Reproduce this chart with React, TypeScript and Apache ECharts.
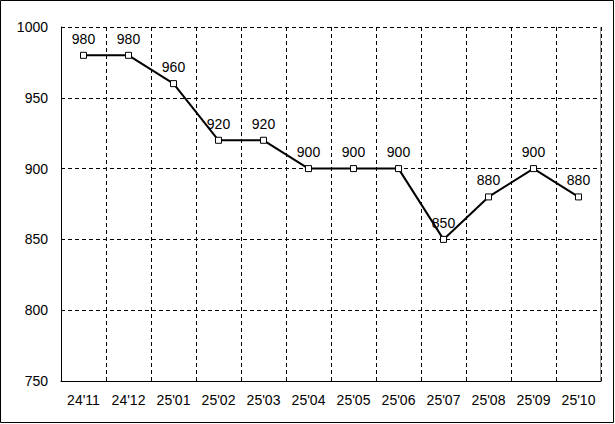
import React, { useEffect, useRef } from "react";
import * as echarts from "echarts";

const categories = ["24'11", "24'12", "25'01", "25'02", "25'03", "25'04", "25'05", "25'06", "25'07", "25'08", "25'09", "25'10"];
const values = [980, 980, 960, 920, 920, 900, 900, 900, 850, 880, 900, 880];
const yMin = 750;
const yMax = 1000;
const yStep = 50;

export default function App() {
  const ref = useRef<HTMLDivElement>(null);
  useEffect(() => {
    if (!ref.current) return;
    const chart = echarts.init(ref.current, undefined, { renderer: "svg" });
    const font = "'Liberation Sans', Arial, sans-serif";
    chart.setOption({
      animation: false,
      backgroundColor: "#ffffff",
      textStyle: { fontFamily: font },
      graphic: [
        {
          type: "rect",
          shape: { x: 0.5, y: 0.5, width: 613, height: 422 },
          style: { fill: "none", stroke: "#000", lineWidth: 1 },
          silent: true,
          z: 100,
        },
        {
          type: "line",
          shape: { x1: 600.5, y1: 27, x2: 600.5, y2: 381 },
          style: { stroke: "#999", lineWidth: 1 },
          silent: true,
          z: 100,
        },
      ],
      grid: { left: 61, top: 27, width: 540, height: 354, containLabel: false },
      xAxis: {
        type: "category",
        data: categories,
        boundaryGap: true,
        axisLine: { show: true, lineStyle: { color: "#000", width: 1 } },
        axisTick: { show: false },
        axisLabel: { color: "#000", fontSize: 14, margin: 12, fontFamily: font, interval: 0 },
        splitLine: { show: true, interval: 0, lineStyle: { color: "#000", type: [4, 3], width: 1 } },
      },
      yAxis: {
        type: "value",
        min: yMin,
        max: yMax,
        interval: yStep,
        axisLine: { show: true, lineStyle: { color: "#000", width: 1 } },
        axisTick: { show: false },
        axisLabel: { color: "#000", fontSize: 14, margin: 13, fontFamily: font, formatter: (v: number) => String(v) },
        splitLine: { show: true, lineStyle: { color: "#000", type: [4, 3], width: 1 } },
      },
      series: [
        {
          type: "line",
          data: values,
          symbol: "rect",
          symbolSize: 6,
          showAllSymbol: true,
          lineStyle: { color: "#000", width: 2 },
          itemStyle: { color: "#fff", borderColor: "#000", borderWidth: 1 },
          label: {
            show: true,
            position: "top",
            distance: 6,
            color: "#000",
            fontSize: 14,
            fontFamily: font,
          },
          z: 5,
        },
      ],
    });
    return () => chart.dispose();
  }, []);
  return (
    <div
      ref={ref}
      style={{ position: "fixed", left: 0, top: 0, width: 615, height: 424 }}
    />
  );
}
